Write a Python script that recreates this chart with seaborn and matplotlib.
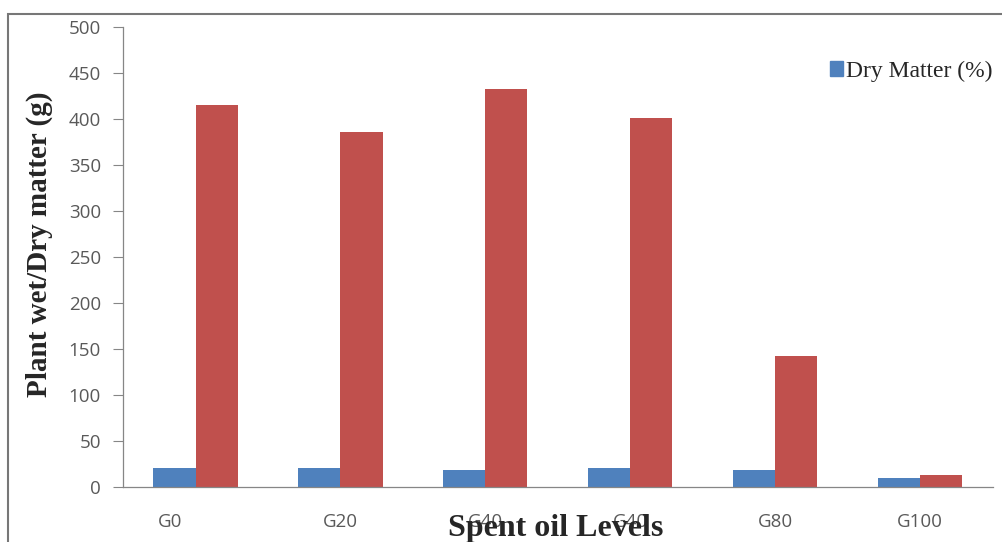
import matplotlib
matplotlib.use("Agg")
import matplotlib.pyplot as plt
import matplotlib.transforms as mtransforms
import seaborn as sns
import pandas as pd
from matplotlib.patches import Rectangle

# data
levels = ["G0", "G20", "G40", "G40 ", "G80", "G100"]
dry_matter = [21, 21, 19, 21, 18, 10]
wet_weight = [415, 386, 433, 401, 142, 13]

COLOR_BLUE = "#4F81BD"
COLOR_RED = "#C0504D"
GREY_TXT = "#595959"
GREY_AXIS = "#868686"

df = pd.DataFrame({
    "level": levels * 2,
    "value": dry_matter + wet_weight,
    "series": ["Dry Matter (%)"] * len(levels) + ["Wet weight (g)"] * len(levels),
})

sns.set_style("white")
plt.rcParams["font.family"] = ["Open Sans", "DejaVu Sans"]

fig = plt.figure(figsize=(10.02, 5.42), dpi=100)
ax = fig.add_axes([0.1228, 0.1015, 0.868, 0.8485])

sns.barplot(data=df, x="level", y="value", hue="series",
            palette=[COLOR_BLUE, COLOR_RED], width=0.58, gap=0,
            saturation=1, linewidth=0, edgecolor="none", ax=ax, legend=False)

ax.set_ylim(0, 500)
ax.set_yticks(range(0, 501, 50))
ax.set_xlim(-0.5, len(levels) - 0.5)
ax.set_xticks(range(len(levels)))
ax.set_xticklabels([l.strip() for l in levels])

ax.tick_params(axis="y", direction="out", length=7, width=0.8, color=GREY_AXIS,
               labelsize=13.5, labelcolor=GREY_TXT, pad=9, left=True)
ax.tick_params(axis="x", length=0, labelsize=13.5, labelcolor=GREY_TXT, pad=19)

# first category label sits a bit left in the original
shift = mtransforms.ScaledTranslation(-0.25, 0, fig.dpi_scale_trans)
first = ax.get_xticklabels()[0]
first.set_transform(first.get_transform() + shift)

for s in ["top", "right"]:
    ax.spines[s].set_visible(False)
for s in ["left", "bottom"]:
    ax.spines[s].set_color(GREY_AXIS)
    ax.spines[s].set_linewidth(0.9)

ax.set_ylabel("Plant wet/Dry matter (g)", fontsize=21, fontweight="bold",
              family="Liberation Serif")
ax.yaxis.set_label_coords(-0.080, 0.528)
ax.set_xlabel("Spent oil Levels", fontsize=23, fontweight="bold",
              family="Liberation Serif")
ax.xaxis.set_label_coords(0.498, -0.058)

handle = Rectangle((0, 0), 1, 1, color=COLOR_BLUE)
ax.legend([handle], ["Dry Matter (%)"], loc="center right", bbox_to_anchor=(1.0, 0.904),
          frameon=False, prop={"family": "Liberation Serif", "size": 17},
          handlelength=0.55, handleheight=0.55, handletextpad=0.15, borderaxespad=0,
          borderpad=0)

# outer frame of the original chart
fig.patches.append(Rectangle((0.008, -0.1), 1.1, 1.074, transform=fig.transFigure,
                             fill=False, edgecolor="#777777", linewidth=1.5))

fig.savefig("out.png", dpi=100)
